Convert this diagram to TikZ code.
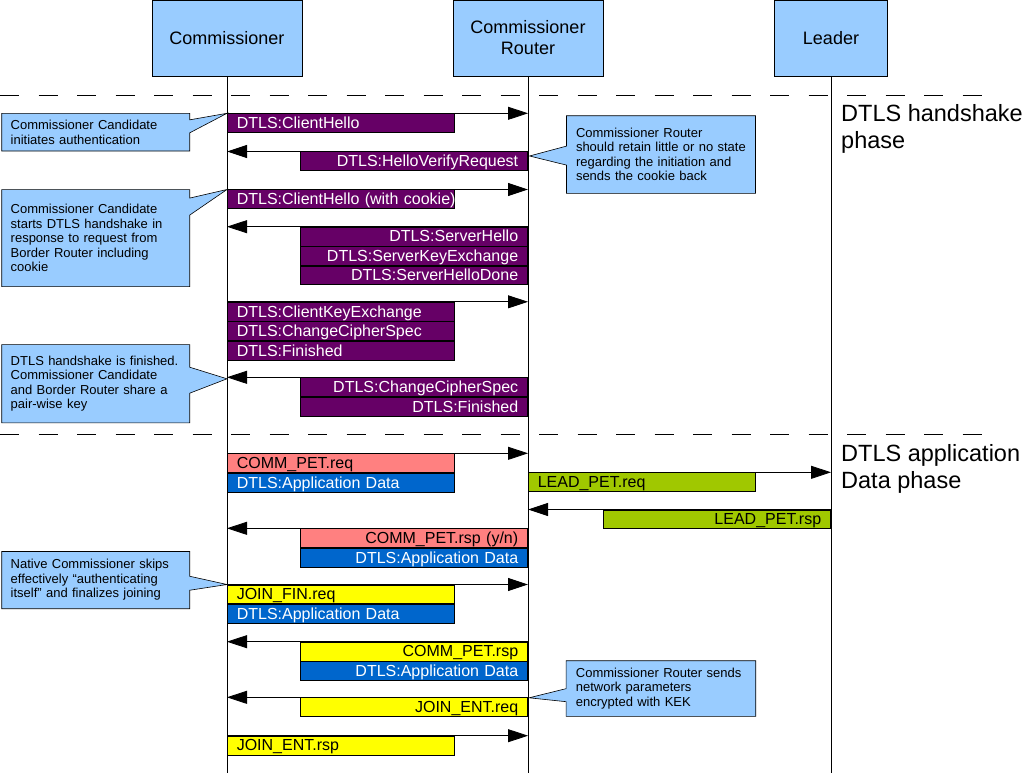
\documentclass[tikz,border=0pt]{standalone}
\usepackage{fontspec}
\setmainfont{Liberation Sans}
\usetikzlibrary{positioning,calc,arrows.meta,shapes.callouts}
\definecolor{lifeblue}{HTML}{99CCFF}
\definecolor{dtlspurple}{HTML}{660066}
\definecolor{apppink}{HTML}{FF8080}
\definecolor{appblue}{HTML}{0066CC}
\definecolor{appyellow}{HTML}{FFFF00}
\definecolor{appgreen}{HTML}{A0C800}
\tikzset{
	head/.style={draw, fill=lifeblue, line width=0.7pt, minimum width=150pt, minimum height=76pt, inner sep=0pt, align=center, font=\fontsize{18}{21}\selectfont},
	box/.style={draw, line width=0.6pt, minimum width=227pt, minimum height=18.86pt, inner sep=0pt, text width=208pt, text height=12.1pt, text depth=1pt, font=\fontsize{16}{18}\selectfont},
	lbox/.style={box, anchor=north west, align=left},
	rbox/.style={box, anchor=north east, align=right},
	purplemsg/.style={fill=dtlspurple, text=white},
	bluemsg/.style={fill=appblue, text=white},
	pinkmsg/.style={fill=apppink},
	yellowmsg/.style={fill=appyellow},
	greenmsg/.style={fill=appgreen},
	msg/.style={line width=0.8pt, -{Triangle[length=20pt,width=13pt]}},
	note/.style={rectangle callout, draw, fill=lifeblue, line width=0.6pt, minimum width=188pt, inner xsep=9pt, inner ysep=0pt, text width=170pt, align=left, font=\fontsize{13}{14.5}\selectfont},
	phase/.style={anchor=north west, inner sep=0pt, align=left, font=\fontsize{23.5}{27}\selectfont}
}
\begin{document}
\begin{tikzpicture}[x=1pt,y=-1pt]
	\useasboundingbox (0,0) rectangle (1034,773);
	\coordinate (bottom) at (0,773);
	\node (comm) [head] at (227,38) {Commissioner};
	\node (router) [head] at (528,38) {Commissioner\\Router};
	\node (leader) [head, minimum width=113pt] at (831,38) {Leader};
	\draw [line width=0.8pt] (comm.south) -- (comm.south |- bottom);
	\draw [line width=0.8pt] (router.south) -- (router.south |- bottom);
	\draw [line width=0.8pt] (leader.south) -- (leader.south |- bottom);
	\draw [line width=0.8pt, dash pattern=on 19.25pt off 19.25pt] (0,95) -- (982,95);
	\draw [line width=0.8pt, dash pattern=on 19.25pt off 19.25pt] (0,434) -- (982,434);
	\node (hs) [phase] at (841,104.5) {DTLS handshake\\phase};
	\node (ad) [phase] at (841,444.5) {DTLS application\\Data phase};

	% handshake
	\node (chello) [lbox, purplemsg] at (227,113.3) {DTLS:ClientHello};
	\node (hvr) [rbox, purplemsg] at (528,151.5) {DTLS:HelloVerifyRequest};
	\node (chello2) [lbox, purplemsg] at (227,189.5) {DTLS:ClientHello~(with~cookie)};
	\node (shello) [rbox, purplemsg] at (528,226.7) {DTLS:ServerHello};
	\node (skx) [rbox, purplemsg, below=0pt of shello] {DTLS:ServerKeyExchange};
	\node (shdone) [rbox, purplemsg, below=0pt of skx] {DTLS:ServerHelloDone};
	\node (ckx) [lbox, purplemsg] at (227,301.8) {DTLS:ClientKeyExchange};
	\node (ccs) [lbox, purplemsg, below=0pt of ckx] {DTLS:ChangeCipherSpec};
	\node (fin) [lbox, purplemsg, below=0pt of ccs] {DTLS:Finished};
	\node (ccs2) [rbox, purplemsg] at (528,377.3) {DTLS:ChangeCipherSpec};
	\node (fin2) [rbox, purplemsg, below=0pt of ccs2] {DTLS:Finished};
	\draw [msg] (chello.north west) -- (chello.north west -| router);
	\draw [msg] (hvr.north east) -- (hvr.north east -| comm);
	\draw [msg] (chello2.north west) -- (chello2.north west -| router);
	\draw [msg] (shello.north east) -- (shello.north east -| comm);
	\draw [msg] (ckx.north west) -- (ckx.north west -| router);
	\draw [msg] (ccs2.north east) -- (ccs2.north east -| comm);

	% application data
	\node (commreq) [lbox, pinkmsg] at (227,453.3) {COMM\_PET.req};
	\node (appreq) [lbox, bluemsg, below=0pt of commreq] {DTLS:Application Data};
	\node (leadreq) [lbox, greenmsg] at (528,472.3) {LEAD\_PET.req};
	\node (leadrsp) [rbox, greenmsg] at (831,509.5) {LEAD\_PET.rsp};
	\node (commrsp) [rbox, pinkmsg] at (528,528.3) {COMM\_PET.rsp (y/n)};
	\node (apprsp) [rbox, bluemsg, below=0pt of commrsp] {DTLS:Application Data};
	\node (joinfin) [lbox, yellowmsg] at (227,584.5) {JOIN\_FIN.req};
	\node (appfin) [lbox, bluemsg, below=0pt of joinfin] {DTLS:Application Data};
	\node (commrsp2) [rbox, yellowmsg] at (528,641.7) {COMM\_PET.rsp};
	\node (apprsp2) [rbox, bluemsg, below=0pt of commrsp2] {DTLS:Application Data};
	\node (joinent) [rbox, yellowmsg] at (528,697.3) {JOIN\_ENT.req};
	\node (joinrsp) [lbox, yellowmsg] at (227,735.7) {JOIN\_ENT.rsp};
	\draw [msg] (commreq.north west) -- (commreq.north west -| router);
	\draw [msg] (leadreq.north west) -- (leadreq.north west -| leader);
	\draw [msg] (leadrsp.north east) -- (leadrsp.north east -| router);
	\draw [msg] (commrsp.north east) -- (commrsp.north east -| comm);
	\draw [msg] (joinfin.north west) -- (joinfin.north west -| router);
	\draw [msg] (commrsp2.north east) -- (commrsp2.north east -| comm);
	\draw [msg] (joinent.north east) -- (joinent.north east -| comm);
	\draw [msg] (joinrsp.north west) -- (joinrsp.north west -| router);

	% notes
	\node (noteinit) [note, minimum height=37.7pt, callout pointer width=13pt, callout absolute pointer={(chello.north west)}] at (95.7,132.2) {Commissioner Candidate\\initiates authentication};
	\node (notestate) [note, minimum width=189pt, minimum height=77.7pt, callout pointer width=19pt, callout absolute pointer={($(hvr.north east)+(1.5,4.5)$)}] at (661,154.6) {Commissioner Router\\should retain little or no state\\regarding the initiation and\\sends the cookie back};
	\node (notecookie) [note, minimum height=97pt, callout pointer width=17pt, callout absolute pointer={(chello2.north west)}] at (95.7,238.1) {Commissioner Candidate\\starts DTLS handshake in\\response to request from\\Border Router including\\cookie};
	\node (notekey) [note, minimum height=78.2pt, callout pointer width=26pt, callout absolute pointer={($(ccs2.north west -| comm)+(0,1.5)$)}] at (95.7,383.7) {DTLS handshake is finished.\\Commissioner Candidate\\and Border Router share a\\pair-wise key};
	\node (notenative) [note, minimum height=57.2pt, callout pointer width=14pt, callout absolute pointer={(joinfin.north west)}] at (95.7,580.1) {Native Commissioner skips\\effectively “authenticating\\itself” and finalizes joining};
	\node (notekek) [note, minimum width=189.7pt, minimum height=55.6pt, callout pointer width=13pt, callout absolute pointer={($(joinent.north east)+(1,0.5)$)}] at (660.9,688.5) {Commissioner Router sends\\network parameters\\encrypted with KEK};
\end{tikzpicture}
\end{document}
